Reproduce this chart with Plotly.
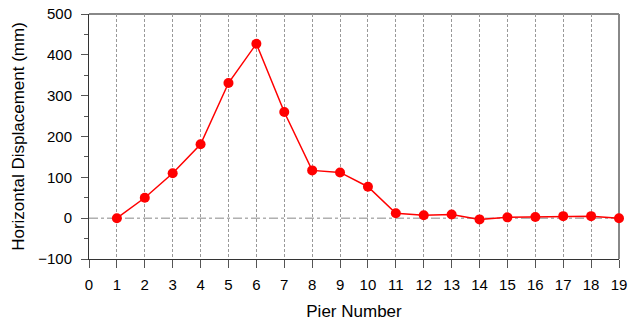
import plotly.graph_objects as go

pier = list(range(1, 20))
disp = [0, 50, 110, 181, 331, 427, 260, 117, 112, 77, 12, 7, 9, -3, 2, 3, 5, 5, 0]
x_ticks = list(range(0, 20))
y_ticks = [-100, 0, 100, 200, 300, 400, 500]

fig = go.Figure()
fig.add_trace(go.Scatter(
    x=pier, y=disp, mode="lines+markers",
    line=dict(color="#ff0000", width=1.5),
    marker=dict(color="#ff0000", size=10),
    showlegend=False, cliponaxis=False,
))

font = dict(family="Liberation Sans, Arial, sans-serif", size=15, color="#000")
title_font = dict(family="Liberation Sans, Arial, sans-serif", size=17, color="#000")

fig.update_layout(
    width=629, height=321,
    margin=dict(l=89, r=10, t=14, b=62),
    paper_bgcolor="white", plot_bgcolor="white",
    font=font,
    xaxis=dict(
        range=[0, 19], tickvals=x_ticks, ticktext=[str(v) for v in x_ticks],
        showgrid=True, gridcolor="#999", griddash="3px,2px", gridwidth=1,
        zeroline=False, showline=True, linecolor="#333", linewidth=1,
        ticks="outside", ticklen=8, tickcolor="#555", ticklabelstandoff=4,
        automargin=False,
        title=dict(text="Pier Number", standoff=13, font=title_font),
    ),
    yaxis=dict(
        range=[-100, 500], tickvals=y_ticks,
        showgrid=False, zeroline=False, showline=True, linecolor="#333", linewidth=1,
        ticks="outside", ticklen=7, tickcolor="#555", ticklabelstandoff=6,
        automargin=False,
        minor=dict(dtick=50, ticks="outside", ticklen=4, tickcolor="#555", showgrid=False),
        title=dict(text="Horizontal Displacement (mm)", standoff=9, font=title_font),
    ),
    shapes=[
        dict(type="line", xref="paper", yref="y", x0=0, x1=1, y0=0, y1=0,
             line=dict(color="#888", width=1, dash="dashdot"), layer="below"),
        dict(type="line", xref="paper", yref="paper", x0=0, x1=1, y0=1, y1=1,
             line=dict(color="#888", width=2), layer="below"),
        dict(type="line", xref="paper", yref="paper", x0=1, x1=1, y0=0, y1=1,
             line=dict(color="#888", width=2), layer="below"),
    ],
)

fig.write_html("out.html")
